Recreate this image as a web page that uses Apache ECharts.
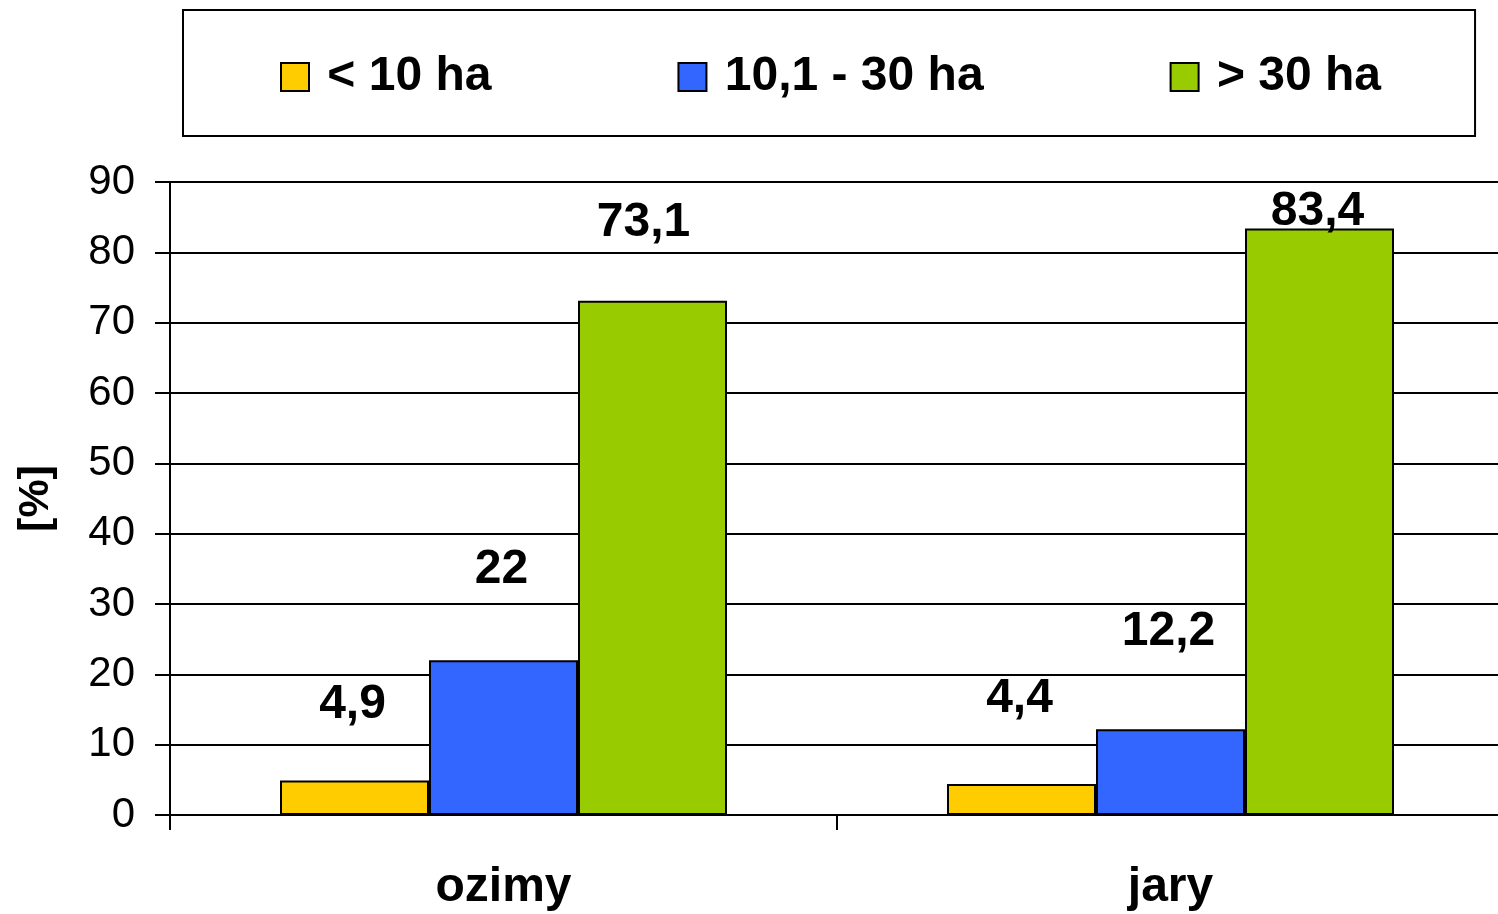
<!DOCTYPE html>
<html>
<head>
<meta charset="utf-8">
<title>ozimy / jary</title>
<script src="https://cdn.jsdelivr.net/npm/echarts@6/dist/echarts.min.js"></script>
<style>
  html, body { margin: 0; padding: 0; background: #fff; }
  #chartMain { width: 1498px; height: 914px; }
</style>
</head>
<body>
<div id="chartMain"></div>
<script>
// dane
var categories = ['ozimy', 'jary'];
var seriesNames = ['< 10 ha', '10,1 - 30 ha', '> 30 ha'];
var small = [4.9, 4.4];     // < 10 ha
var medium = [22, 12.2];    // 10,1 - 30 ha
var large = [73.1, 83.4];   // > 30 ha
var yTicks = [0, 10, 20, 30, 40, 50, 60, 70, 80, 90];

// jak wysoko nad słupkiem stoi etykieta (px) i przesunięcie w bok
var liftSmall = [52, 61];
var liftMedium = [67, 73];
var liftLarge = [54, -7];
var shiftLarge = [-9, -2];

var colors = ['#FFCC00', '#3366FF', '#99CC00'];
var font = "'Liberation Sans', Arial, sans-serif";

function withLabels(values, lift, shift) {
    return values.map(function (v, i) {
        return {
            value: v,
            label: { distance: lift[i], offset: [shift ? shift[i] : -2, 0] }
        };
    });
}

function barSeries(name, values, lift, color, shift) {
    return {
        name: name,
        type: 'bar',
        barWidth: 149,
        barGap: '0%',
        data: withLabels(values, lift, shift),
        itemStyle: { color: color, borderColor: '#000', borderWidth: 2 },
        label: {
            show: true,
            position: 'top',
            color: '#000',
            fontFamily: font,
            fontWeight: 'bold',
            fontSize: 48,
            formatter: function (p) { return String(p.value).replace('.', ','); }
        }
    };
}

var myChart = echarts.init(document.getElementById('chartMain'));

myChart.setOption({
    animation: false,
    backgroundColor: '#fff',
    textStyle: { fontFamily: font },
    legend: {
        data: seriesNames,
        left: 183,
        top: 10,
        padding: [43, 94, 35, 97],
        borderColor: '#000',
        borderWidth: 2,
        borderRadius: 0,
        itemWidth: 28,
        itemHeight: 28,
        itemGap: 186,
        icon: 'rect',
        formatter: function (name) { return ' ' + name; },
        textStyle: {
            color: '#000',
            fontFamily: font,
            fontWeight: 'bold',
            fontSize: 48
        }
    },
    grid: {
        left: 170,
        right: -6,
        top: 182,
        bottom: 99,
        containLabel: false,
        outerBoundsMode: 'none'
    },
    xAxis: {
        type: 'category',
        data: categories,
        axisLine: { lineStyle: { color: '#000', width: 2 } },
        axisTick: { show: true, length: 15, lineStyle: { color: '#000', width: 2 } },
        axisLabel: {
            color: '#000',
            fontFamily: font,
            fontWeight: 'bold',
            fontSize: 48,
            margin: 49
        }
    },
    yAxis: {
        type: 'value',
        min: yTicks[0],
        max: yTicks[yTicks.length - 1],
        interval: 10,
        name: '[%]',
        nameLocation: 'middle',
        nameGap: 112,
        nameRotate: 90,
        nameTextStyle: {
            color: '#000',
            fontFamily: font,
            fontWeight: 'bold',
            fontSize: 43
        },
        axisLine: { show: true, lineStyle: { color: '#000', width: 2 } },
        axisTick: { show: true, length: 15, lineStyle: { color: '#000', width: 2 } },
        axisLabel: {
            color: '#000',
            fontFamily: font,
            fontSize: 42,
            margin: 35
        },
        splitLine: { lineStyle: { color: '#000', width: 2 } }
    },
    series: [
        barSeries(seriesNames[0], small, liftSmall, colors[0]),
        barSeries(seriesNames[1], medium, liftMedium, colors[1]),
        barSeries(seriesNames[2], large, liftLarge, colors[2], shiftLarge)
    ]
});
</script>
</body>
</html>
